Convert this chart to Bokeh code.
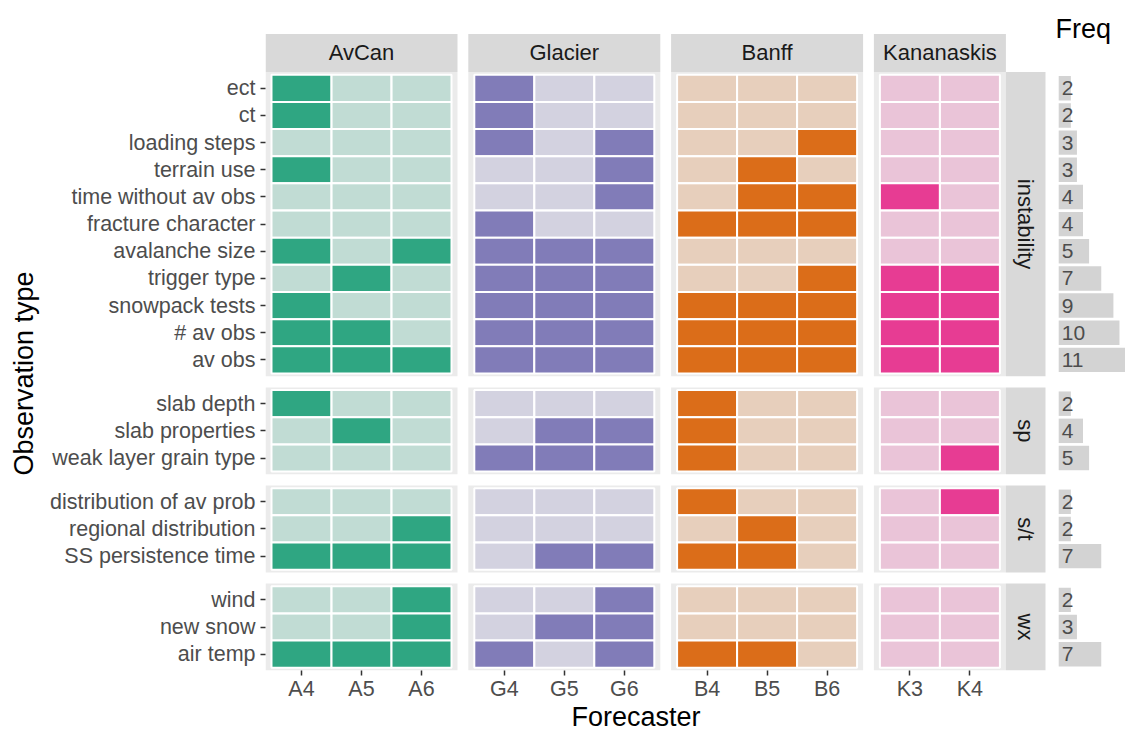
import math
from bokeh.plotting import figure
from bokeh.models import Range1d, FixedTicker, ColumnDataSource, Title
from bokeh.embed import file_html
from bokeh.resources import INLINE
from bokeh.core.properties import value

FONT = "Liberation Sans"

# ---------------- data ----------------
groups = ["instability", "sp", "s/t", "wx"]
instability_obs = ["ect", "ct", "loading steps", "terrain use", "time without av obs",
                   "fracture character", "avalanche size", "trigger type",
                   "snowpack tests", "# av obs", "av obs"]
sp_obs = ["slab depth", "slab properties", "weak layer grain type"]
st_obs = ["distribution of av prob", "regional distribution", "SS persistence time"]
wx_obs = ["wind", "new snow", "air temp"]

agencies = ["AvCan", "Glacier", "Banff", "Kananaskis"]
avcan_fc = ["A4", "A5", "A6"]
glacier_fc = ["G4", "G5", "G6"]
banff_fc = ["B4", "B5", "B6"]
kan_fc = ["K3", "K4"]

# 1 = observation type used by forecaster; rows: instability, sp, s/t, wx
avcan_used = [
    [1, 0, 0], [1, 0, 0], [0, 0, 0], [1, 0, 0], [0, 0, 0], [0, 0, 0], [1, 0, 1],
    [0, 1, 0], [1, 0, 0], [1, 1, 0], [1, 1, 1],
    [1, 0, 0], [0, 1, 0], [0, 0, 0],
    [0, 0, 0], [0, 0, 1], [1, 1, 1],
    [0, 0, 1], [0, 0, 1], [1, 1, 1]]
glacier_used = [
    [1, 0, 0], [1, 0, 0], [1, 0, 1], [0, 0, 1], [0, 0, 1], [1, 0, 0], [1, 1, 1],
    [1, 1, 1], [1, 1, 1], [1, 1, 1], [1, 1, 1],
    [0, 0, 0], [0, 1, 1], [1, 1, 1],
    [0, 0, 0], [0, 0, 0], [0, 1, 1],
    [0, 0, 1], [0, 1, 1], [1, 0, 1]]
banff_used = [
    [0, 0, 0], [0, 0, 0], [0, 0, 1], [0, 1, 0], [0, 1, 1], [1, 1, 1], [0, 0, 0],
    [0, 0, 1], [1, 1, 1], [1, 1, 1], [1, 1, 1],
    [1, 0, 0], [1, 0, 0], [1, 0, 0],
    [1, 0, 0], [0, 1, 0], [1, 1, 0],
    [0, 0, 0], [0, 0, 0], [1, 1, 0]]
kan_used = [
    [0, 0], [0, 0], [0, 0], [0, 0], [1, 0], [0, 0], [0, 0],
    [1, 1], [1, 1], [1, 1], [1, 1],
    [0, 0], [0, 0], [0, 1],
    [0, 1], [0, 0], [0, 0],
    [0, 0], [0, 0], [0, 0]]

freq = [2, 2, 3, 3, 4, 4, 5, 7, 9, 10, 11, 2, 4, 5, 2, 2, 7, 2, 3, 7]

agency_colors = ["#1B9E77", "#7570B3", "#D95F02", "#E7298A"]

# ---------------- layout (facet geometry) ----------------
EXP = 0.6          # discrete scale expansion
GAP_X = 0.18       # panel spacing (x units)
GAP_Y = 0.412      # panel spacing (row units)
PX_X = 60.0        # pixels per column
PX_Y = 27.16       # pixels per row

W, H = 1125, 731
BORDER_L, BORDER_B = 265, 61

group_obs = [instability_obs, sp_obs, st_obs, wx_obs]
agency_fc = [avcan_fc, glacier_fc, banff_fc, kan_fc]
agency_used = [avcan_used, glacier_used, banff_used, kan_used]

x_off = []
cur = 0.0
for fc in agency_fc:
    x_off.append(cur)
    cur = cur + (len(fc) - 1) + EXP + GAP_X + EXP
y_off = []
cur = 0.0
for obs in group_obs:
    y_off.append(cur)
    cur = cur + (len(obs) - 1) + EXP + GAP_Y + EXP

row_y = []
row_label = []
for gi, obs in enumerate(group_obs):
    for k, name in enumerate(obs):
        row_y.append(y_off[gi] + k)
        row_label.append(name)

col_x = []
col_label = []
for ai, fc in enumerate(agency_fc):
    for j, name in enumerate(fc):
        col_x.append(x_off[ai] + j)
        col_label.append(name)

panel_l = [x_off[a] - EXP for a in range(4)]
panel_r = [x_off[a] + len(agency_fc[a]) - 1 + EXP for a in range(4)]
panel_t = [y_off[g] - EXP for g in range(4)]
panel_b = [y_off[g] + len(group_obs[g]) - 1 + EXP for g in range(4)]

STRIP_TOP = -2.0
STRIP_R_W = 0.66
FREQ_X0 = 12.62
FREQ_SCALE = 0.1013

X_START = -EXP
X_END = X_START + (W - BORDER_L) / PX_X
Y_BOTTOM = panel_b[-1]
Y_TOP = Y_BOTTOM - (H - BORDER_B) / PX_Y

# ---------------- figure ----------------
p = figure(width=W, height=H, output_backend="svg", toolbar_location=None,
           x_range=Range1d(X_START, X_END), y_range=Range1d(Y_BOTTOM, Y_TOP),
           min_border_left=BORDER_L, min_border_right=0, min_border_top=0,
           min_border_bottom=BORDER_B)
p.outline_line_color = None
p.xgrid.visible = False
p.ygrid.visible = False
p.background_fill_color = "white"
p.border_fill_color = "white"

# panel backgrounds
bl, br, bt, bb = [], [], [], []
for a in range(4):
    for g in range(4):
        bl.append(panel_l[a]); br.append(panel_r[a])
        bt.append(panel_t[g]); bb.append(panel_b[g])
p.quad(left=bl, right=br, top=bt, bottom=bb, fill_color="#EBEBEB", line_color=None)

# tiles
tx, ty, tc, ta = [], [], [], []
for a in range(4):
    used = agency_used[a]
    for r in range(len(row_y)):
        for j in range(len(agency_fc[a])):
            tx.append(x_off[a] + j)
            ty.append(row_y[r])
            tc.append(agency_colors[a])
            ta.append(0.9 if used[r][j] == 1 else 0.2)
src = ColumnDataSource(dict(x=tx, y=ty, c=tc, a=ta))
p.rect(x="x", y="y", width=1, height=1, source=src, fill_color="c", fill_alpha="a",
       line_color="white", line_width=2)

# top strips
p.quad(left=panel_l, right=panel_r, top=[STRIP_TOP] * 4, bottom=[panel_t[0]] * 4,
       fill_color="#D9D9D9", line_color=None)
p.text(x=[(panel_l[a] + panel_r[a]) / 2 for a in range(4)], y=[(STRIP_TOP + panel_t[0]) / 2] * 4,
       text=agencies, text_align="center", text_baseline="middle",
       text_font=value(FONT), text_font_size="22px", text_color="#1A1A1A")

# right strips
sx0 = panel_r[-1]
p.quad(left=[sx0] * 4, right=[sx0 + STRIP_R_W] * 4, top=panel_t, bottom=panel_b,
       fill_color="#D9D9D9", line_color=None)
p.text(x=[sx0 + STRIP_R_W / 2] * 4, y=[(panel_t[g] + panel_b[g]) / 2 for g in range(4)],
       text=groups, angle=-math.pi / 2, text_align="center", text_baseline="middle",
       text_font=value(FONT), text_font_size="22px", text_color="#1A1A1A")

# Freq panel
p.quad(left=[FREQ_X0] * len(freq), right=[FREQ_X0 + f * FREQ_SCALE for f in freq],
       top=[y - 0.45 for y in row_y], bottom=[y + 0.45 for y in row_y],
       fill_color="#D3D3D3", line_color=None)
p.text(x=[FREQ_X0 + 0.05] * len(freq), y=row_y, text=[str(f) for f in freq],
       text_align="left", text_baseline="middle",
       text_font=value(FONT), text_font_size="21px", text_color="#4D4D4D")
p.text(x=[12.567], y=[-2.198], text=["Freq"], text_align="left", text_baseline="alphabetic",
       text_font=value(FONT), text_font_size="27px", text_color="black")

# axes
for ax in (p.xaxis[0], p.yaxis[0]):
    ax.axis_line_color = None
    ax.major_tick_line_color = "#333333"
    ax.major_tick_line_width = 1.5
    ax.major_tick_out = 5
    ax.major_tick_in = 0
    ax.minor_tick_line_color = None
    ax.major_label_text_font = FONT
    ax.major_label_text_font_size = "21.5px"
    ax.major_label_text_color = "#4D4D4D"

p.xaxis.ticker = FixedTicker(ticks=col_x, minor_ticks=[])
p.xaxis.major_label_overrides = {t: lab for t, lab in zip(col_x, col_label)}
p.xaxis.major_label_standoff = 1

p.yaxis.ticker = FixedTicker(ticks=row_y, minor_ticks=[])
p.yaxis.major_label_overrides = {t: lab for t, lab in zip(row_y, row_label)}
p.yaxis.major_label_standoff = 5

# axis titles centred on the facet area (as ggplot does)
ytitle = Title(text="Observation type", align="left", offset=195, vertical_align="middle",
               standoff=14, text_font=FONT, text_font_size="27px",
               text_font_style="normal", text_color="black")
p.add_layout(ytitle, "left")
xtitle = Title(text="Forecaster", align="left", offset=306, vertical_align="middle",
               standoff=-5, text_font=FONT, text_font_size="27px",
               text_font_style="normal", text_color="black")
p.add_layout(xtitle, "below")

open("out.html", "w").write(file_html(p, INLINE))
